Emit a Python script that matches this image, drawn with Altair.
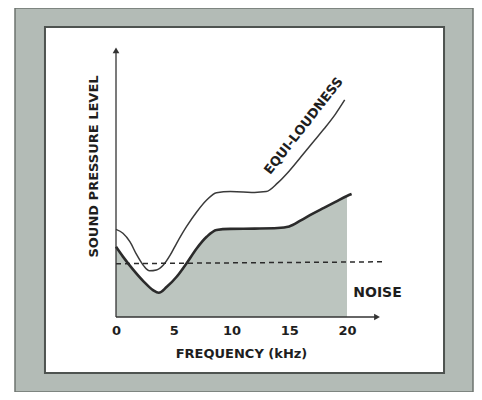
import altair as alt
import pandas as pd

# ---- data (arbitrary level units, frequency in kHz) ----
upper_f = [0, 0.6, 1.2, 1.8, 2.4, 2.9, 3.5, 4.1, 4.7, 5.25, 6.1, 7.0, 7.85, 8.7, 9.9,
           11, 12, 13, 14, 15, 16, 17, 18, 19, 19.8]
upper_v = [32.2, 30.8, 27.7, 22.8, 18.8, 17.0, 17.3, 19.1, 22.8, 27.1, 33.2, 38.7, 43.0,
           45.7, 46.1, 46.0, 45.8, 46.1, 49.3, 53.7, 58.8, 64.0, 69.1, 74.6, 79.8]
lower_f = [0, 0.6, 1.5, 2.4, 3.2, 3.7, 4.4, 5.25, 6.1, 7.0, 7.85, 8.7, 9.9, 12, 14,
           15, 16, 17, 18, 19, 20, 20.4]
lower_v = [25.8, 22.2, 17.3, 13.0, 9.9, 8.9, 11.1, 14.8, 19.7, 25.3, 29.5, 32.0, 32.4,
           32.5, 32.7, 33.3, 35.5, 37.9, 40.1, 42.3, 44.5, 45.2]
fill_max_f = 20
noise_f = [0, 23.3]
noise_v = [19.6, 20.3]
tick_values = [0, 5, 10, 15, 20]

x_title = "FREQUENCY (kHz)"
y_title = "SOUND PRESSURE LEVEL"
curve_label = "EQUI-LOUDNESS"
noise_label = "NOISE"

# ---- layout constants ----
X_DOMAIN = [-8.745, 30.909]
Y_DOMAIN = [-27.57, 113.6]
PANEL = dict(f=-6.15, f2=28.4, v=-20.6, v2=106.6)
X_AXIS_END = 22.6
Y_AXIS_END = 98.0
FONT = "DejaVu Sans"

upper = pd.DataFrame({"f": upper_f, "v": upper_v})
lower = pd.DataFrame({"f": lower_f, "v": lower_v})
fill = lower[lower["f"] <= fill_max_f]
noise = pd.DataFrame({"f": noise_f, "v": noise_v})

xs = alt.Scale(domain=X_DOMAIN, nice=False, zero=False)
ys = alt.Scale(domain=Y_DOMAIN, nice=False, zero=False)

X = alt.X("f:Q", scale=xs, title=x_title,
          axis=alt.Axis(values=tick_values, offset=-75, domain=False, ticks=False,
                        grid=False, labelPadding=7, labelFontSize=13, zindex=2,
                        labelFont=FONT, labelFontWeight="bold", labelColor="#1e1e1e",
                        titleFont=FONT, titleFontWeight="bold", titleFontSize=13,
                        titleColor="#1e1e1e", titleX=226, titleY=36,
                        titleBaseline="middle", titleAnchor="start", titleAlign="center"))
Y = alt.Y("v:Q", scale=ys, title=y_title,
          axis=alt.Axis(offset=-101, domain=False, ticks=False, labels=False, grid=False,
                        zindex=2,
                        titleFont=FONT, titleFontWeight="bold", titleFontSize=13,
                        titleColor="#1e1e1e", titleX=-23, titleY=158,
                        titleBaseline="middle", titleAlign="center", titleAngle=270))

panel = alt.Chart(pd.DataFrame([PANEL])).mark_rect(
    fill="white", stroke="#4e5350", strokeWidth=2
).encode(x=X, x2="f2:Q", y=Y, y2="v2:Q")

area = alt.Chart(fill).mark_area(
    interpolate="monotone", color="#bcc5bf", opacity=1
).encode(x=X, y=Y, y2=alt.datum(0))

lower_line = alt.Chart(lower).mark_line(
    interpolate="monotone", color="#2b2b2b", strokeWidth=2.6
).encode(x=X, y=Y)

upper_line = alt.Chart(upper).mark_line(
    interpolate="monotone", color="#3a3a3a", strokeWidth=1.5
).encode(x=X, y=Y)

noise_line = alt.Chart(noise).mark_line(
    color="#2b2b2b", strokeWidth=1.5, strokeDash=[5, 4]
).encode(x=X, y=Y)

axes = pd.DataFrame({"f": [0, 0], "v": [0, 0], "f2": [X_AXIS_END, 0], "v2": [0, Y_AXIS_END]})
axis_rules = alt.Chart(axes).mark_rule(color="#333333", strokeWidth=1.3).encode(
    x=X, y=Y, x2="f2:Q", y2="v2:Q")

arrows = pd.DataFrame({"f": [X_AXIS_END, 0], "v": [0, Y_AXIS_END],
                       "shape": ["triangle-right", "triangle-up"]})
arrow_marks = alt.Chart(arrows).mark_point(
    filled=True, color="#333333", size=45, opacity=1
).encode(x=X, y=Y, shape=alt.Shape("shape:N", scale=None))

labels = pd.DataFrame({"f": [16.25, 22.64], "v": [70.2, 8.8],
                       "text": [curve_label, noise_label], "angle": [308, 0],
                       "size": [13, 14]})
label_marks = alt.Chart(labels).mark_text(
    font=FONT, fontWeight="bold", color="#1e1e1e", baseline="middle",
    align="center"
).encode(x=X, y=Y, text="text:N", angle=alt.Angle("angle:Q", scale=None),
         size=alt.Size("size:Q", scale=None))

chart = alt.layer(
    panel, area, lower_line, upper_line, noise_line, axis_rules, arrow_marks, label_marks
).properties(
    width=458, height=384,
    autosize=alt.AutoSizeParams(type="none"),
    padding={"left": 7, "top": 0, "right": 1, "bottom": 0},
    background="white",
).configure_view(
    fill="#b3bbb6", stroke="#6d746f", strokeWidth=1.5
)

chart.save("out.html", embed_options={"renderer": "svg", "actions": False})
